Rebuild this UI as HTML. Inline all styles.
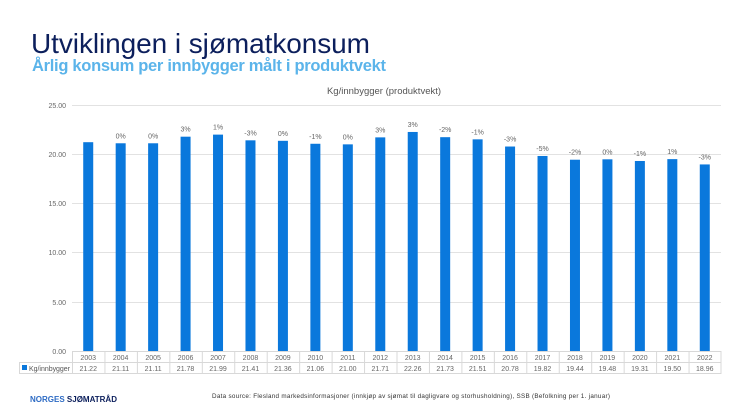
<!DOCTYPE html>
<html><head><meta charset="utf-8"><style>
html,body{margin:0;padding:0;background:#fff;}
body{width:746px;height:420px;overflow:hidden;position:relative;font-family:"Liberation Sans",sans-serif;}
</style></head><body>
<svg width="746" height="420" xmlns="http://www.w3.org/2000/svg" style="position:absolute;left:0;top:0">
<text x="31" y="53" font-family="Liberation Sans,sans-serif" font-size="28" fill="#0c1f5c" textLength="339">Utviklingen i sjømatkonsum</text>
<text x="32" y="71" font-family="Liberation Sans,sans-serif" font-size="16.5" font-weight="bold" fill="#5bb4ea" textLength="354">Årlig konsum per innbygger målt i produktvekt</text>
<text x="384" y="94" font-family="Liberation Sans,sans-serif" font-size="9.5" fill="#555" text-anchor="middle">Kg/innbygger (produktvekt)</text>
<g stroke="#e2e2e2" stroke-width="1">
<line x1="72" x2="721" y1="105.5" y2="105.5"/>
<line x1="72" x2="721" y1="154.5" y2="154.5"/>
<line x1="72" x2="721" y1="203.5" y2="203.5"/>
<line x1="72" x2="721" y1="252.5" y2="252.5"/>
<line x1="72" x2="721" y1="302.5" y2="302.5"/>
</g>
<g font-family="Liberation Sans,sans-serif" font-size="7" fill="#666" text-anchor="end">
<text x="66" y="108">25.00</text><text x="66" y="157">20.00</text><text x="66" y="206">15.00</text><text x="66" y="255">10.00</text><text x="66" y="305">5.00</text><text x="66" y="354">0.00</text>
</g>
<g id="bars"></g>
<g stroke="#d8d8d8" stroke-width="1" fill="none">
<line x1="72" x2="721" y1="351.5" y2="351.5"/>
<line x1="19" x2="721" y1="362.5" y2="362.5"/>
<line x1="19" x2="721" y1="373.5" y2="373.5"/>
<line x1="19.5" x2="19.5" y1="362" y2="374"/>
</g>
<g id="tbl"></g>
<rect x="22" y="365" width="5" height="5" fill="#0a78dc"/>
<text x="29" y="371" font-family="Liberation Sans,sans-serif" font-size="7" fill="#555" textLength="41">Kg/innbygger</text>
<text x="30" y="402" font-family="Liberation Sans,sans-serif" font-size="8" font-weight="bold" fill="#2d6bc4">NORGES <tspan fill="#0c1f5c">SJØMATRÅD</tspan></text>
<text x="212" y="398" font-family="Liberation Sans,sans-serif" font-size="6.3" fill="#333" textLength="398">Data source: Flesland markedsinformasjoner (innkjøp av sjømat til dagligvare og storhusholdning), SSB (Befolkning per 1. januar)</text>
</svg>
<script>
(function(){
var v=[21.22,21.11,21.11,21.78,21.99,21.41,21.36,21.06,21.00,21.71,22.26,21.73,21.51,20.78,19.82,19.44,19.48,19.31,19.50,18.96];
var p=["","0%","0%","3%","1%","-3%","0%","-1%","0%","3%","3%","-2%","-1%","-3%","-5%","-2%","0%","-1%","1%","-3%"];
var ns="http://www.w3.org/2000/svg",b=document.getElementById("bars"),t=document.getElementById("tbl");
function el(n,a,par,tx){var e=document.createElementNS(ns,n);for(var k in a)e.setAttribute(k,a[k]);if(tx)e.textContent=tx;par.appendChild(e);return e;}
var w=649/20;
for(var i=0;i<20;i++){var cx=72+w*(i+0.5),ty=351-v[i]*9.84;
el("rect",{x:cx-5,y:ty,width:10,height:351-ty,fill:"#0a78dc"},b);
if(p[i])el("text",{x:cx,y:ty-5,"font-family":"Liberation Sans,sans-serif","font-size":"7",fill:"#666","text-anchor":"middle"},b,p[i]);
el("line",{x1:72+w*i+0.5,x2:72+w*i+0.5,y1:351,y2:374,stroke:"#d8d8d8"},t);
el("text",{x:cx,y:360,"font-family":"Liberation Sans,sans-serif","font-size":"7",fill:"#666","text-anchor":"middle"},t,String(2003+i));
el("text",{x:cx,y:371,"font-family":"Liberation Sans,sans-serif","font-size":"7",fill:"#666","text-anchor":"middle"},t,v[i].toFixed(2));}
el("line",{x1:721,x2:721,y1:351,y2:374,stroke:"#d8d8d8"},t);
})();
</script>
</body></html>
